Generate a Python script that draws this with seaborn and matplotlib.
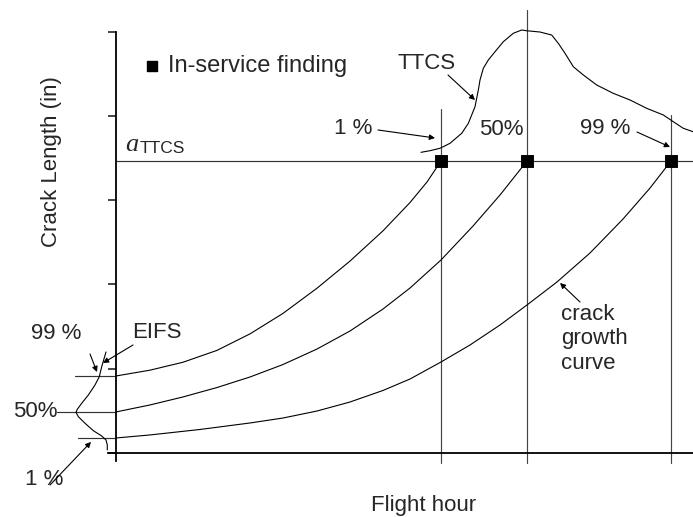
import numpy as np
import pandas as pd
import seaborn as sns
import matplotlib.pyplot as plt

# x in flight-hour tick units (minor tick = 1), y in crack-length tick units
upper_x = [0, 1.159, 2.284, 3.444, 4.569, 5.694, 6.853, 7.978, 9.103, 10.024, 10.604, 11.081]
upper_y = [0.914, 0.983, 1.077, 1.218, 1.414, 1.657, 1.956, 2.278, 2.637, 2.973, 3.217, 3.466]

middle_x = [0, 1.159, 2.284, 3.444, 4.569, 5.694, 6.853, 7.978, 9.103, 10.024, 11.081, 12.172, 13.092, 14.013]
middle_y = [0.487, 0.570, 0.665, 0.777, 0.902, 1.050, 1.234, 1.448, 1.709, 1.958, 2.291, 2.694, 3.062, 3.466]

lower_x = [0, 1.159, 2.864, 4.569, 5.694, 6.853, 7.978, 9.103, 10.024, 11.081, 12.070, 13.092,
           14.013, 15.036, 16.161, 17.286, 18.207, 18.923]
lower_y = [0.178, 0.214, 0.279, 0.356, 0.415, 0.498, 0.605, 0.742, 0.878, 1.080, 1.282, 1.519,
           1.757, 2.030, 2.374, 2.777, 3.145, 3.466]

# EIFS distribution drawn left of the crack-length axis
eifs_x = [-0.341, -0.488, -0.569, -0.716, -0.944, -1.169, -1.319, -1.364, -1.285, -1.057,
          -0.774, -0.488, -0.341, -0.297, -0.297]
eifs_y = [1.199, 1.024, 0.906, 0.807, 0.688, 0.590, 0.519, 0.483, 0.431, 0.353,
          0.265, 0.202, 0.154, 0.095, 0.036]

# TTCS distribution drawn above the critical crack size
ttcs_x = [10.399, 10.706, 11.047, 11.388, 11.787, 12.012, 12.240, 12.353, 12.410, 12.523,
          12.694, 12.922, 13.205, 13.546, 13.832, 14.003, 14.456, 14.855, 15.080, 15.309,
          15.592, 15.933, 16.389, 16.955, 17.525, 18.094, 18.660, 19.001, 19.342, 19.672]
ttcs_y = [3.569, 3.588, 3.617, 3.676, 3.795, 3.913, 4.110, 4.309, 4.427, 4.566,
          4.665, 4.763, 4.882, 4.982, 5.021, 5.012, 4.997, 4.961, 4.863, 4.744,
          4.585, 4.487, 4.368, 4.269, 4.190, 4.091, 4.012, 3.932, 3.854, 3.814]

# in-service findings (1 %, 50 %, 99 %)
find_x = [11.081, 14.013, 18.923]
a_ttcs = 3.466
eifs_levels = [0.914, 0.487, 0.178]
eifs_start = [-1.398, -2.012, -1.296]
vline_top = [4.083, 5.258, 4.012]

sns.set_style('white')
plt.rcParams['font.family'] = ['Liberation Sans', 'DejaVu Sans']

fig = plt.figure(figsize=(6.93, 5.17), dpi=100)
ax = fig.add_axes([0, 0, 1, 1])
ax.set_xlim(-3.955, 19.672)
ax.set_ylim(-0.760, 5.377)

# axes
for s in ['top', 'right']:
    ax.spines[s].set_visible(False)
ax.spines['left'].set_position(('data', 0))
ax.spines['bottom'].set_position(('data', 0))
ax.spines['left'].set_bounds(-0.09, 5.0)
ax.spines['bottom'].set_bounds(-0.27, 19.672)
for s in ['left', 'bottom']:
    ax.spines[s].set_color('black')
    ax.spines[s].set_linewidth(1.3)

ax.set_xticks([0, 5, 10, 15])
ax.set_xticks([i for i in range(1, 20) if i % 5 != 0], minor=True)
ax.set_yticks(range(0, 6))
ax.tick_params(axis='x', which='major', direction='inout', length=9.4, width=1.2, labelbottom=False)
ax.tick_params(axis='x', which='minor', direction='in', length=3.6, width=1.2)
ax.tick_params(axis='y', direction='out', length=5.8, width=1.2, labelleft=False, left=True)

ax.set_xlabel('Flight hour', fontsize=16)
ax.set_ylabel('Crack Length (in)', fontsize=16)
ax.xaxis.set_label_coords(424 / 693, 1 - 505 / 517)
ax.yaxis.set_label_coords(52 / 693, 1 - 162 / 517)
ax.xaxis.label.set_va('center')
ax.yaxis.label.set_va('center')

# reference lines
ax.plot([0, 19.672], [a_ttcs, a_ttcs], color='#333333', lw=0.85)
for xv, top in zip(find_x, vline_top):
    ax.plot([xv, xv], [-0.119, top], color='#444444', lw=0.85)
for yv, x0 in zip(eifs_levels, eifs_start):
    ax.plot([x0, 0], [yv, yv], color='#333333', lw=0.85)

# curves
for cx, cy in [(upper_x, upper_y), (middle_x, middle_y), (lower_x, lower_y),
               (eifs_x, eifs_y), (ttcs_x, ttcs_y)]:
    sns.lineplot(x=cx, y=cy, sort=False, estimator=None, color='black', lw=0.8, ax=ax)

sns.scatterplot(x=find_x, y=[a_ttcs] * 3, marker='s', s=70, color='black',
                edgecolor='black', zorder=5, ax=ax)

# legend-like key
ax.scatter([1.227], [4.593], marker='s', s=55, color='black')
ax.text(1.773, 4.593, 'In-service finding', fontsize=17, va='center', ha='left')

ax.text(0.307, 3.585, 'a', family=['Liberation Serif', 'DejaVu Serif'], style='italic',
        fontsize=19, va='baseline', ha='left')
ax.text(0.818, 3.561, 'TTCS', fontsize=12.5, va='baseline', ha='left')

arrow = dict(arrowstyle='-|>', color='black', lw=0.8, mutation_scale=8, shrinkA=0, shrinkB=0)

ax.text(10.604, 4.629, 'TTCS', fontsize=16, ha='center', va='center')
ax.annotate('', xy=(12.240, 4.190), xytext=(11.319, 4.487), arrowprops=arrow)
ax.text(8.080, 3.857, '1 %', fontsize=16, ha='center', va='center')
ax.annotate('', xy=(10.876, 3.739), xytext=(8.933, 3.834), arrowprops=arrow)
ax.text(13.126, 3.834, '50%', fontsize=16, ha='center', va='center')
ax.text(16.672, 3.857, '99 %', fontsize=16, ha='center', va='center')
ax.annotate('', xy=(18.888, 3.632), xytext=(17.763, 3.810), arrowprops=arrow)

ax.text(15.172, 1.353, 'crack\ngrowth\ncurve', fontsize=16, ha='left', va='center',
        linespacing=1.2)
ax.annotate('', xy=(15.138, 2.018), xytext=(15.820, 1.792), arrowprops=arrow)

ax.text(1.398, 1.436, 'EIFS', fontsize=16, ha='center', va='center')
ax.annotate('', xy=(-0.443, 1.068), xytext=(0.580, 1.282), arrowprops=arrow)
ax.text(-2.046, 1.424, '99 %', fontsize=16, ha='center', va='center')
ax.annotate('', xy=(-0.648, 0.961), xytext=(-0.886, 1.175), arrowprops=arrow)
ax.text(-2.762, 0.487, '50%', fontsize=16, ha='center', va='center')
ax.text(-2.455, -0.309, '1 %', fontsize=16, ha='center', va='center')
ax.annotate('', xy=(-0.852, 0.131), xytext=(-2.250, -0.380), arrowprops=arrow)

fig.savefig('out.png', dpi=100)
